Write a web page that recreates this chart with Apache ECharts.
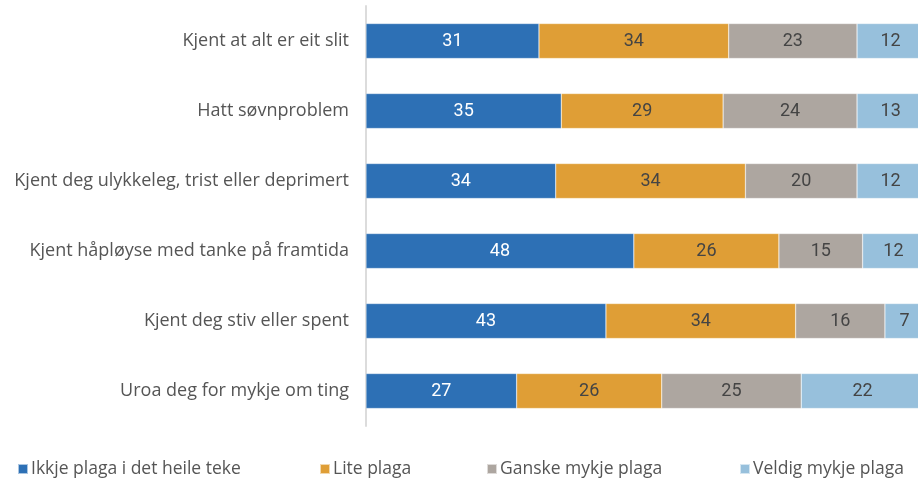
<!DOCTYPE html>
<html><head><meta charset="utf-8">
<script src="https://cdn.jsdelivr.net/npm/echarts@6/dist/echarts.min.js"></script>
<style>html,body{margin:0;padding:0;background:#fff;overflow:hidden;width:918px;height:481px}#c{width:924px;height:481px}</style>
</head><body><div id="c"></div>
<script>
const categories = [
  "Kjent at alt er eit slit",
  "Hatt søvnproblem",
  "Kjent deg ulykkeleg, trist eller deprimert",
  "Kjent håpløyse med tanke på framtida",
  "Kjent deg stiv eller spent",
  "Uroa deg for mykje om ting"
];
const seriesNames = ["Ikkje plaga i det heile teke", "Lite plaga", "Ganske mykje plaga", "Veldig mykje plaga"];
const ikkjePlaga = [31, 35, 34, 48, 43, 27];
const litePlaga = [34, 29, 34, 26, 34, 26];
const ganskeMykje = [23, 24, 20, 15, 16, 25];
const veldigMykje = [12, 13, 12, 12, 7, 22];
const values = [ikkjePlaga, litePlaga, ganskeMykje, veldigMykje];
const colors = ["#2d70b5", "#df9e36", "#ada6a0", "#97c0dc"];
const labelColors = ["#ffffff", "#444444", "#444444", "#444444"];
const legendLefts = [12, 314, 481, 734];

const chart = echarts.init(document.getElementById('c'));
chart.setOption({
  animation: false,
  grid: { left: 366, right: 0, top: 6, bottom: 55, containLabel: false },
  xAxis: { type: 'value', min: 0, max: 100, show: false },
  yAxis: {
    type: 'category', data: categories, inverse: true,
    axisLine: { show: true, lineStyle: { color: '#dcdcdc', width: 2 } },
    axisTick: { show: false },
    axisLabel: { color: '#555', fontSize: 18, fontFamily: 'Open Sans', margin: 17 }
  },
  legend: seriesNames.map((n, i) => ({
    data: [n], left: legendLefts[i], top: 455, itemWidth: 10, itemHeight: 10,
    icon: 'rect', itemGap: 0,
    textStyle: { color: '#555', fontSize: 17.5, fontFamily: 'Open Sans', padding: [0, 0, 0, -2] }
  })),
  series: seriesNames.map((n, i) => ({
    name: n, type: 'bar', stack: 'total', barWidth: '50%',
    data: values[i],
    itemStyle: { color: colors[i], borderColor: 'rgba(255,255,255,0.6)', borderWidth: 0.5 },
    label: { show: true, position: 'inside', color: labelColors[i], fontSize: 18, fontFamily: 'Roboto' }
  }))
});
</script></body></html>
